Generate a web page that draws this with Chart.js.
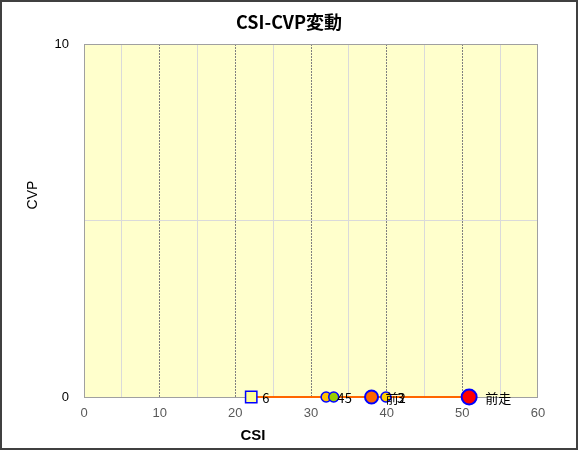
<!DOCTYPE html>
<html>
<head>
<meta charset="utf-8">
<script src="https://cdn.jsdelivr.net/npm/chart.js@4.4.1/dist/chart.umd.min.js"></script>
<style>
html,body{margin:0;padding:0;background:#fff;}
#wrap{width:578px;height:450px;position:relative;}
</style>
</head>
<body>
<div id="wrap"><canvas id="c" width="578" height="450"></canvas></div>
<script>
// ---- data ----
const pointLabels = ['前走', '前2', '3', '4', '5', '6'];
const csiValues   = [50.9, 38.0, 39.9, 32.0, 33.0, 22.1];
const cvpValues   = [0, 0, 0, 0, 0, 0];
const xTickValues = [0, 10, 20, 30, 40, 50, 60];
const yTickValues = [0, 10];

const fillColors  = ['#FF0000', '#FF6600', '#FFCC00', '#FFC000', '#99CC00', '#FFFF99'];
const radii       = [7.5, 6.5, 5, 5, 5, 8];
const styles      = ['circle', 'circle', 'circle', 'circle', 'circle', 'rect'];
const borderWs    = [2, 2, 1.5, 1.5, 1.5, 1.5];
const labelOffs   = [16, 14, 11, 11, 11, 11];

const FONT = '"Noto Sans CJK JP", "Noto Sans", sans-serif';
const LFONT = '"Liberation Sans", Arial, sans-serif';

const points = csiValues.map((v, i) => ({ x: v, y: cvpValues[i] }));

const framePlugin = {
  id: 'frame',
  beforeDraw(chart) {
    const ctx = chart.ctx;
    ctx.save();
    ctx.fillStyle = '#ffffff';
    ctx.fillRect(0, 0, chart.width, chart.height);
    const a = chart.chartArea;
    ctx.fillStyle = '#FFFFCC';
    ctx.fillRect(a.left, a.top, a.right - a.left, a.bottom - a.top);
    ctx.restore();
  },
  beforeDatasetsDraw(chart) {
    const ctx = chart.ctx;
    const a = chart.chartArea;
    ctx.save();
    ctx.strokeStyle = '#A0A0A0';
    ctx.lineWidth = 1;
    ctx.strokeRect(a.left + 0.5, a.top + 0.5, a.right - a.left - 1, a.bottom - a.top);
    ctx.restore();
  },
  afterDraw(chart) {
    const ctx = chart.ctx;
    ctx.save();
    // outer frame
    ctx.strokeStyle = '#404040';
    ctx.lineWidth = 2;
    ctx.strokeRect(1, 1, chart.width - 2, chart.height - 2);
    // title
    ctx.fillStyle = '#000';
    ctx.textBaseline = 'middle';
    ctx.textAlign = 'center';
    ctx.font = 'bold 18px ' + FONT;
    ctx.fillText('CSI-CVP変動', 289, 22);
    // point labels
    const meta = chart.getDatasetMeta(0);
    ctx.font = '13px ' + FONT;
    ctx.textAlign = 'left';
    meta.data.forEach((el, i) => {
      ctx.fillText(pointLabels[i], el.x + labelOffs[i], el.y + 1);
    });
    // axis titles
    ctx.font = 'bold 15px ' + LFONT;
    ctx.textAlign = 'center';
    ctx.fillText('CSI', 253, 436);
    ctx.font = '14px ' + LFONT;
    ctx.translate(33, 195);
    ctx.rotate(-Math.PI / 2);
    ctx.fillText('CVP', 0, 0);
    ctx.restore();
  }
};

new Chart(document.getElementById('c'), {
  type: 'scatter',
  data: {
    datasets: [{
      data: points,
      showLine: true,
      borderColor: '#FF6600',
      borderWidth: 2,
      pointBackgroundColor: fillColors,
      pointBorderColor: '#0000FF',
      pointBorderWidth: borderWs,
      pointRadius: radii,
      pointHoverRadius: radii,
      pointStyle: styles,
      clip: false
    }]
  },
  options: {
    responsive: false,
    animation: false,
    devicePixelRatio: 1,
    layout: { padding: { left: 0, right: 40, top: 44, bottom: 0 } },
    plugins: {
      legend: { display: false },
      tooltip: { enabled: false },
      title: { display: false }
    },
    scales: {
      x: {
        type: 'linear',
        min: 0, max: 60,
        afterFit: s => { s.height = 53; },
        afterBuildTicks: s => {
          const t = [];
          for (let v = 0; v <= 60; v += 5) t.push({ value: v });
          s.ticks = t;
        },
        ticks: {
          color: '#595959',
          font: { family: LFONT, size: 13 },
          padding: 9,
          maxRotation: 0,
          autoSkip: false,
          callback: v => (xTickValues.includes(v) ? String(v) : '')
        },
        grid: {
          drawTicks: false,
          color: c => (c.tick && c.tick.value % 10 === 0) ? 'rgba(0,0,0,0)' : '#DADADA',
          lineWidth: 1
        },
        border: { display: false }
      },
      x2: {
        type: 'linear',
        position: 'bottom',
        min: 0, max: 60,
        afterFit: s => { s.height = 0; },
        afterBuildTicks: s => {
          s.ticks = xTickValues.map(v => ({ value: v }));
        },
        ticks: { display: false },
        grid: {
          drawTicks: false,
          color: c => (c.tick && (c.tick.value === 0 || c.tick.value === 60)) ? 'rgba(0,0,0,0)' : '#808080',
          lineWidth: 1
        },
        border: { display: false, dash: [2, 1] }
      },
      y: {
        type: 'linear',
        min: 0, max: 10,
        afterFit: s => { s.width = 84; },
        afterBuildTicks: s => {
          s.ticks = [{ value: 0 }, { value: 5 }, { value: 10 }];
        },
        ticks: {
          color: '#000',
          font: { family: LFONT, size: 13 },
          padding: 15,
          callback: v => (yTickValues.includes(v) ? String(v) : '')
        },
        grid: {
          drawTicks: false,
          color: c => (c.tick && c.tick.value === 5) ? '#DADADA' : 'rgba(0,0,0,0)',
          lineWidth: 1
        },
        border: { display: false }
      }
    }
  },
  plugins: [framePlugin]
});
</script>
</body>
</html>
